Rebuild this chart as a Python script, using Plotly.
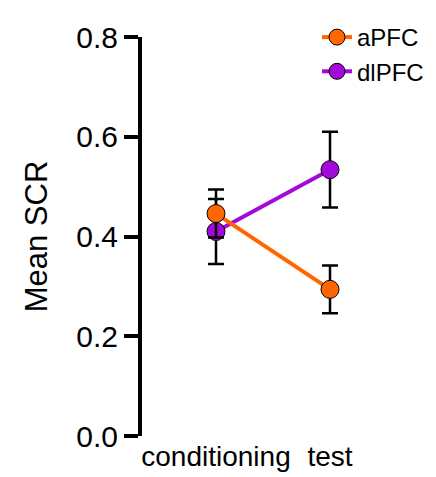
import plotly.graph_objects as go

categories = ["conditioning", "test"]
apfc_mean = [0.446, 0.294]
apfc_err = [0.048, 0.048]
dlpfc_mean = [0.41, 0.534]
dlpfc_err = [0.065, 0.076]
y_ticks = [0.0, 0.2, 0.4, 0.6, 0.8]
y_tick_labels = ["0.0", "0.2", "0.4", "0.6", "0.8"]

xpos = list(range(len(categories)))
FONT = "Liberation Sans, Arial, Helvetica, sans-serif"

L, R, T, B = 134, 26, 29, 49
W, H = 436, 477
px_per_unit = 114.0
x_lo = -(208 - L) / px_per_unit
x_hi = x_lo + (W - L - R) / px_per_unit

fig = go.Figure()
for name, m, e, col in [("dlPFC", dlpfc_mean, dlpfc_err, "#a30ad9"),
                        ("aPFC", apfc_mean, apfc_err, "#ff6600")]:
    fig.add_trace(go.Scatter(
        x=xpos, y=m, name=name, mode="lines+markers",
        line=dict(color=col, width=4),
        marker=dict(size=18, color=col, line=dict(color="black", width=1)),
        error_y=dict(type="data", array=e, visible=True, color="black",
                     thickness=2.5, width=8),
    ))

fig.update_layout(
    width=W, height=H,
    margin=dict(l=L, r=R, t=T, b=B, autoexpand=False),
    paper_bgcolor="white", plot_bgcolor="white",
    font=dict(family=FONT, color="black"),
    showlegend=True,
    legend=dict(xref="container", yref="container",
                x=309 / W, y=1 - 7 / H,
                xanchor="left", yanchor="top",
                font=dict(size=24, family=FONT), traceorder="reversed",
                bgcolor="rgba(0,0,0,0)", tracegroupgap=0),
    xaxis=dict(range=[x_lo, x_hi], tickvals=xpos, ticktext=categories,
               showline=False, showgrid=False, zeroline=False, ticks="",
               automargin=False, ticklabelstandoff=1,
               tickfont=dict(size=28, family=FONT)),
    yaxis=dict(range=[0, 0.8], tickvals=y_ticks, ticktext=y_tick_labels,
               showline=True, linecolor="black", linewidth=4,
               ticks="outside", ticklen=14, tickwidth=4, tickcolor="black",
               showgrid=False, zeroline=False, automargin=False,
               tickfont=dict(size=30, family=FONT),
               title=dict(text="Mean SCR", font=dict(size=31, family=FONT), standoff=20)),
)

fig.write_html("out.html")
